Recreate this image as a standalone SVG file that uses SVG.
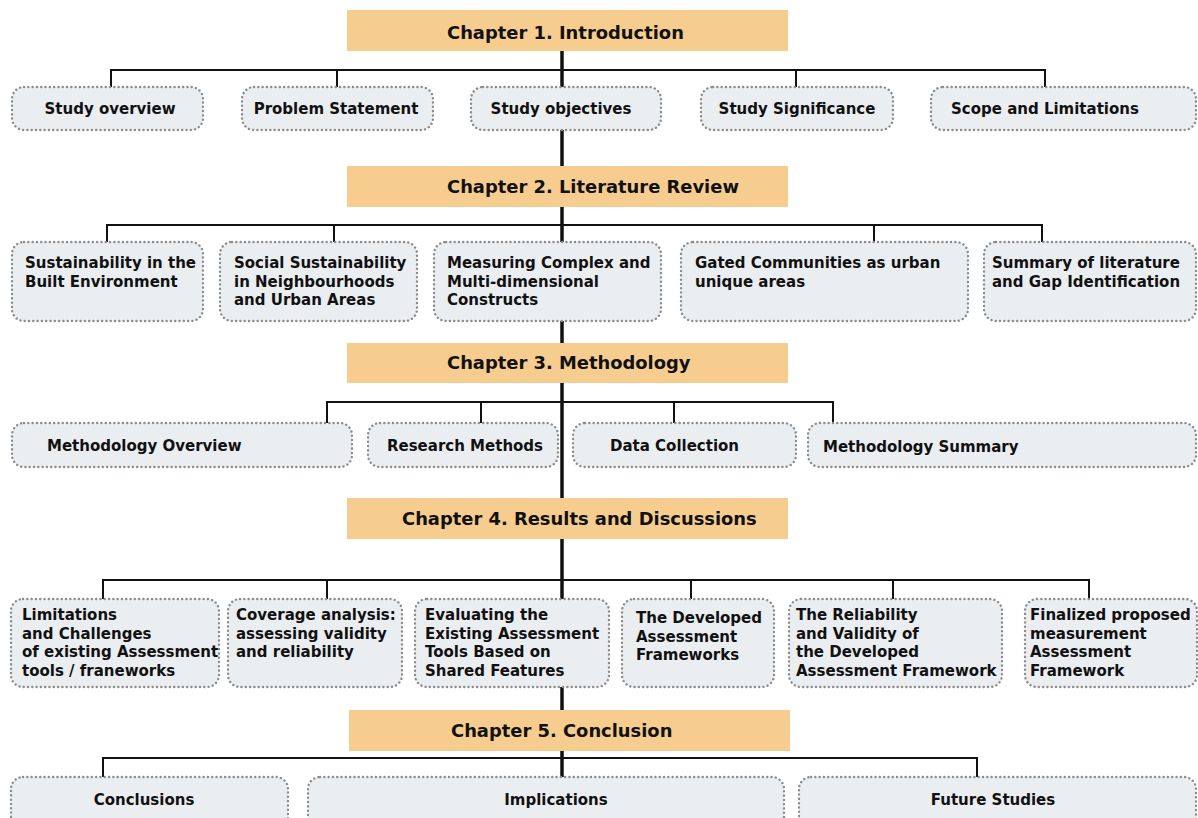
<svg xmlns="http://www.w3.org/2000/svg" width="1198" height="818" viewBox="0 0 1198 818">
<style>
.ch{fill:#F7CD8F}
.ct{font-family:"DejaVu Sans",Inter,sans-serif;font-weight:700;font-size:17.9px;fill:#111}
.nd{fill:#EBEEF1;stroke:#8C8C8C;stroke-width:2.4;stroke-dasharray:0.1 4.2;stroke-linecap:round}
.t{font-family:"DejaVu Sans",Inter,sans-serif;font-weight:700;font-size:15px;fill:#111}
.m{text-anchor:middle}
.ln{stroke:#111;stroke-width:2;fill:none}
.tr{stroke:#111;stroke-width:3.5;fill:none}
</style>
<rect width="1198" height="818" fill="#fff"/>
<g id="connectors">
<path class="tr" d="M562 50V777"/>
<path class="ln" d="M111 87V70H1045V87M337 70V87M796 70V87"/>
<path class="ln" d="M107 242V225H1042V242M334 225V242M874 225V242"/>
<path class="ln" d="M327 423V402H833V423M481 402V423M674 402V423"/>
<path class="ln" d="M103 599V580H1089V599M327 580V599M691 580V599M893 580V599"/>
<path class="ln" d="M103 777V758H977V777"/>
</g>
<g id="ch1"><rect class="ch" x="347" y="10" width="441" height="41"/><text class="ct" x="447" y="39">Chapter 1. Introduction</text></g>
<g id="n1a"><rect class="nd" x="12" y="87" width="191" height="43" rx="12"/><text class="t m" x="110" y="114">Study overview</text></g>
<g id="n1b"><rect class="nd" x="242" y="87" width="191" height="43" rx="12"/><text class="t m" x="336" y="114">Problem Statement</text></g>
<g id="n1c"><rect class="nd" x="471" y="87" width="190" height="43" rx="12"/><text class="t m" x="561" y="114">Study objectives</text></g>
<g id="n1d"><rect class="nd" x="701" y="87" width="192" height="43" rx="12"/><text class="t m" x="797" y="114">Study Significance</text></g>
<g id="n1e"><rect class="nd" x="931" y="87" width="265" height="43" rx="12"/><text class="t" x="951" y="114">Scope and Limitations</text></g>

<g id="ch2"><rect class="ch" x="347" y="166" width="441" height="41"/><text class="ct" x="447" y="193">Chapter 2. Literature Review</text></g>
<g id="n2a"><rect class="nd" x="12" y="242" width="191" height="79" rx="12"/><text class="t" x="25" y="268">Sustainability in the<tspan x="25" dy="18.5">Built Environment</tspan></text></g>
<g id="n2b"><rect class="nd" x="220" y="242" width="197" height="79" rx="12"/><text class="t" x="234" y="268">Social Sustainability<tspan x="234" dy="18.5">in Neighbourhoods</tspan><tspan x="234" dy="18.5">and Urban Areas</tspan></text></g>
<g id="n2c"><rect class="nd" x="434" y="242" width="227" height="79" rx="12"/><text class="t" x="447" y="268">Measuring Complex and<tspan x="447" dy="18.5">Multi-dimensional</tspan><tspan x="447" dy="18.5">Constructs</tspan></text></g>
<g id="n2d"><rect class="nd" x="681" y="242" width="287" height="79" rx="12"/><text class="t" x="695" y="268">Gated Communities as urban<tspan x="695" dy="18.5">unique areas</tspan></text></g>
<g id="n2e"><rect class="nd" x="984" y="242" width="212" height="79" rx="12"/><text class="t" x="992" y="268">Summary of literature<tspan x="992" dy="18.5">and Gap Identification</tspan></text></g>

<g id="ch3"><rect class="ch" x="347" y="343" width="441" height="40"/><text class="ct" x="447" y="369">Chapter 3. Methodology</text></g>
<g id="n3a"><rect class="nd" x="12" y="423" width="340" height="44" rx="12"/><text class="t" x="47" y="451">Methodology Overview</text></g>
<g id="n3b"><rect class="nd" x="368" y="423" width="190" height="44" rx="12"/><text class="t m" x="465" y="451">Research Methods</text></g>
<g id="n3c"><rect class="nd" x="573" y="423" width="223" height="44" rx="12"/><text class="t" x="610" y="451">Data Collection</text></g>
<g id="n3d"><rect class="nd" x="808" y="423" width="388" height="44" rx="12"/><text class="t" x="823" y="452">Methodology Summary</text></g>

<g id="ch4"><rect class="ch" x="347" y="498" width="441" height="41"/><text class="ct" x="402" y="525">Chapter 4. Results and Discussions</text></g>
<g id="n4a"><rect class="nd" x="11" y="599" width="208" height="88" rx="12"/><text class="t" x="22" y="620">Limitations<tspan x="22" dy="18.5">and Challenges</tspan><tspan x="22" dy="18.5">of existing Assessment</tspan><tspan x="22" dy="18.5">tools / franeworks</tspan></text></g>
<g id="n4b"><rect class="nd" x="228" y="599" width="174" height="88" rx="12"/><text class="t" x="236" y="620">Coverage analysis:<tspan x="236" dy="18.5">assessing validity</tspan><tspan x="236" dy="18.5">and reliability</tspan></text></g>
<g id="n4c"><rect class="nd" x="415" y="599" width="194" height="88" rx="12"/><text class="t" x="425" y="620">Evaluating the<tspan x="425" dy="18.5">Existing Assessment</tspan><tspan x="425" dy="18.5">Tools Based on</tspan><tspan x="425" dy="18.5">Shared Features</tspan></text></g>
<g id="n4d"><rect class="nd" x="622" y="599" width="152" height="88" rx="12"/><text class="t" x="636" y="623">The Developed<tspan x="636" dy="18.5">Assessment</tspan><tspan x="636" dy="18.5">Frameworks</tspan></text></g>
<g id="n4e"><rect class="nd" x="789" y="599" width="213" height="88" rx="12"/><text class="t" x="796" y="620">The Reliability<tspan x="796" dy="18.5">and Validity of</tspan><tspan x="796" dy="18.5">the Developed</tspan><tspan x="796" dy="18.5">Assessment Framework</tspan></text></g>
<g id="n4f"><rect class="nd" x="1025" y="599" width="172" height="88" rx="12"/><text class="t" x="1030" y="620">Finalized proposed<tspan x="1030" dy="18.5">measurement</tspan><tspan x="1030" dy="18.5">Assessment</tspan><tspan x="1030" dy="18.5">Framework</tspan></text></g>

<g id="ch5"><rect class="ch" x="349" y="710" width="441" height="41"/><text class="ct" x="451" y="737">Chapter 5. Conclusion</text></g>
<g id="n5a"><rect class="nd" x="11" y="777" width="277" height="60" rx="12"/><text class="t m" x="144" y="805">Conclusions</text></g>
<g id="n5b"><rect class="nd" x="308" y="777" width="476" height="60" rx="12"/><text class="t m" x="556" y="805">Implications</text></g>
<g id="n5c"><rect class="nd" x="799" y="777" width="397" height="60" rx="12"/><text class="t m" x="993" y="805">Future Studies</text></g>
</svg>
